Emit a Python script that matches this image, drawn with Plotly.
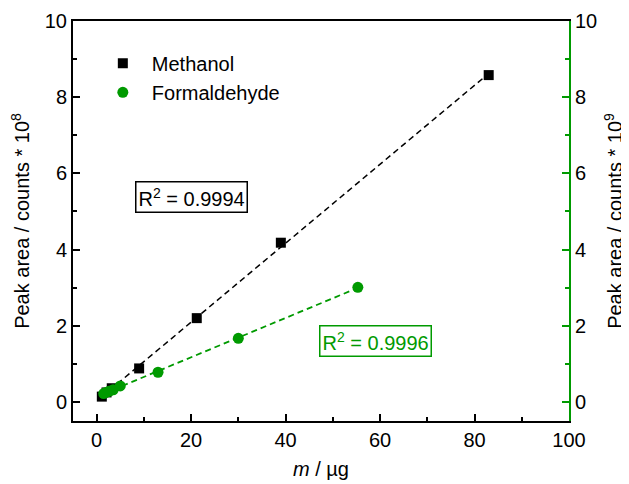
import numpy as np
import plotly.graph_objects as go

# Data
methanol_m = [1.1, 2.1, 3.2, 9.0, 21.2, 39.0, 83.0]
methanol_area = [0.14, 0.25, 0.36, 0.88, 2.20, 4.18, 8.58]      # x 10^8
formaldehyde_m = [1.5, 2.0, 2.6, 3.5, 5.0, 13.0, 30.0, 55.3]
formaldehyde_area = [0.22, 0.25, 0.28, 0.32, 0.42, 0.78, 1.67, 3.01]  # x 10^9
r2_methanol = "0.9994"
r2_formaldehyde = "0.9996"

BLACK = "#000000"
GREEN = "#009A00"
FONT = "Liberation Sans, Arial, sans-serif"
FS = 20

def fit_line(x, y):
    k, b = np.polyfit(x, y, 1)
    xs = np.array([min(x), max(x)])
    return xs, k * xs + b

fig = go.Figure()

mx, my = fit_line(methanol_m, methanol_area)
fx, fy = fit_line(formaldehyde_m, formaldehyde_area)

fig.add_trace(go.Scatter(x=mx, y=my, mode="lines", showlegend=False,
                         line=dict(color=BLACK, width=1.5, dash="6px,4px"), hoverinfo="skip"))
fig.add_trace(go.Scatter(x=fx, y=fy, mode="lines", showlegend=False, yaxis="y2",
                         line=dict(color=GREEN, width=1.8, dash="6px,4px"), hoverinfo="skip"))
fig.add_trace(go.Scatter(x=methanol_m, y=methanol_area, mode="markers", name="Methanol",
                         marker=dict(symbol="square", size=10, color=BLACK)))
fig.add_trace(go.Scatter(x=formaldehyde_m, y=formaldehyde_area, mode="markers", name="Formaldehyde",
                         yaxis="y2", marker=dict(symbol="circle", size=11, color=GREEN)))

axis_common = dict(ticks="inside", ticklen=7, tickwidth=1.5, showgrid=False, zeroline=False,
                   showline=True, linewidth=2, automargin=False,
                   tickfont=dict(size=FS, color=BLACK, family=FONT))

fig.update_layout(
    width=621, height=476,
    margin=dict(l=65, r=60, t=13, b=63),
    paper_bgcolor="white", plot_bgcolor="white",
    font=dict(family=FONT, size=FS, color=BLACK),
    xaxis=dict(range=[-5, 100], tickvals=[0, 20, 40, 60, 80, 100], linecolor=BLACK, tickcolor=BLACK,
               mirror=True,
               minor=dict(ticks="inside", ticklen=4, tickwidth=1.5, tickcolor=BLACK, dtick=10, tick0=0),
               title=dict(text="<i>m</i> / µg", font=dict(size=FS), standoff=12),
               **axis_common),
    yaxis=dict(range=[-0.5, 10], tickvals=[0, 2, 4, 6, 8, 10], linecolor=BLACK, tickcolor=BLACK,
               minor=dict(ticks="inside", ticklen=4, tickwidth=1.5, tickcolor=BLACK, dtick=1, tick0=0),
               title=dict(text="Peak area / counts * 10<sup>8</sup>", font=dict(size=FS), standoff=10),
               **axis_common),
    yaxis2=dict(range=[-0.5, 10], tickvals=[0, 2, 4, 6, 8, 10], overlaying="y", side="right",
                linecolor=GREEN, tickcolor=GREEN,
                minor=dict(ticks="inside", ticklen=4, tickwidth=1.5, tickcolor=GREEN, dtick=1, tick0=0),
                title=dict(text="Peak area / counts * 10<sup>9</sup>", font=dict(size=FS), standoff=12),
                **axis_common),
    legend=dict(x=0.042, y=0.943, xanchor="left", yanchor="top", bgcolor="rgba(0,0,0,0)",
                font=dict(size=FS, family=FONT), itemwidth=48, tracegroupgap=0),
    showlegend=True,
)

fig.add_annotation(x=20, y=5.38, xref="x", yref="y", text="R<sup>2</sup> = " + r2_methanol,
                   showarrow=False, font=dict(size=FS, color=BLACK, family=FONT),
                   bordercolor=BLACK, borderwidth=1.5, borderpad=2, bgcolor="white")
fig.add_annotation(x=59, y=1.6, xref="x", yref="y", text="R<sup>2</sup> = " + r2_formaldehyde,
                   showarrow=False, font=dict(size=FS, color=GREEN, family=FONT),
                   bordercolor=GREEN, borderwidth=1.5, borderpad=2, bgcolor="white")

fig.write_html("out.html")
